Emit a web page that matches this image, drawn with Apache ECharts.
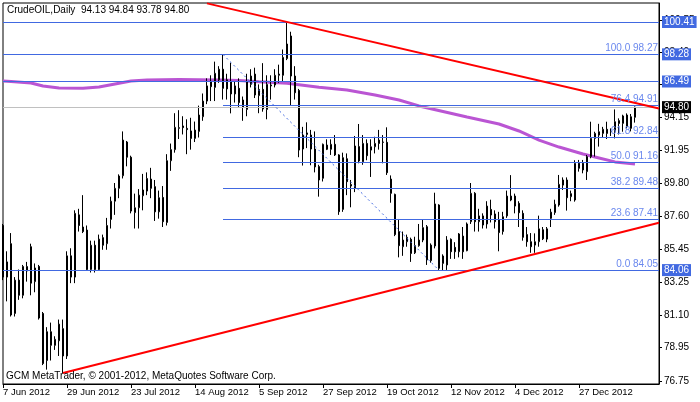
<!DOCTYPE html>
<html><head><meta charset="utf-8">
<script src="https://cdn.jsdelivr.net/npm/echarts@6/dist/echarts.min.js"></script>
<style>html,body{margin:0;padding:0;background:#fff}#c{width:700px;height:402px}</style>
</head><body><div id="c"></div><script>
const dates = ['7 Jun 2012','8 Jun 2012','11 Jun 2012','12 Jun 2012','13 Jun 2012','14 Jun 2012','15 Jun 2012','18 Jun 2012','19 Jun 2012','20 Jun 2012','21 Jun 2012','22 Jun 2012','25 Jun 2012','26 Jun 2012','27 Jun 2012','28 Jun 2012','29 Jun 2012',
'2 Jul 2012','3 Jul 2012','4 Jul 2012','5 Jul 2012','6 Jul 2012','9 Jul 2012','10 Jul 2012','11 Jul 2012','12 Jul 2012','13 Jul 2012','16 Jul 2012','17 Jul 2012','18 Jul 2012','19 Jul 2012','20 Jul 2012','23 Jul 2012','24 Jul 2012','25 Jul 2012','26 Jul 2012','27 Jul 2012','30 Jul 2012','31 Jul 2012',
'1 Aug 2012','2 Aug 2012','3 Aug 2012','6 Aug 2012','7 Aug 2012','8 Aug 2012','9 Aug 2012','10 Aug 2012','13 Aug 2012','14 Aug 2012','15 Aug 2012','16 Aug 2012','17 Aug 2012','20 Aug 2012','21 Aug 2012','22 Aug 2012','23 Aug 2012','24 Aug 2012','27 Aug 2012','28 Aug 2012','29 Aug 2012','30 Aug 2012','31 Aug 2012',
'3 Sep 2012','4 Sep 2012','5 Sep 2012','6 Sep 2012','7 Sep 2012','10 Sep 2012','11 Sep 2012','12 Sep 2012','13 Sep 2012','14 Sep 2012','17 Sep 2012','18 Sep 2012','19 Sep 2012','20 Sep 2012','21 Sep 2012','24 Sep 2012','25 Sep 2012','26 Sep 2012','27 Sep 2012','28 Sep 2012',
'1 Oct 2012','2 Oct 2012','3 Oct 2012','4 Oct 2012','5 Oct 2012','8 Oct 2012','9 Oct 2012','10 Oct 2012','11 Oct 2012','12 Oct 2012','15 Oct 2012','16 Oct 2012','17 Oct 2012','18 Oct 2012','19 Oct 2012','22 Oct 2012','23 Oct 2012','24 Oct 2012','25 Oct 2012','26 Oct 2012','29 Oct 2012','30 Oct 2012','31 Oct 2012',
'1 Nov 2012','2 Nov 2012','5 Nov 2012','6 Nov 2012','7 Nov 2012','8 Nov 2012','9 Nov 2012','12 Nov 2012','13 Nov 2012','14 Nov 2012','15 Nov 2012','16 Nov 2012','19 Nov 2012','20 Nov 2012','21 Nov 2012','22 Nov 2012','23 Nov 2012','26 Nov 2012','27 Nov 2012','28 Nov 2012','29 Nov 2012','30 Nov 2012',
'3 Dec 2012','4 Dec 2012','5 Dec 2012','6 Dec 2012','7 Dec 2012','10 Dec 2012','11 Dec 2012','12 Dec 2012','13 Dec 2012','14 Dec 2012','17 Dec 2012','18 Dec 2012','19 Dec 2012','20 Dec 2012','21 Dec 2012','24 Dec 2012','26 Dec 2012','27 Dec 2012','28 Dec 2012','31 Dec 2012',
'2 Jan 2013','3 Jan 2013','4 Jan 2013','7 Jan 2013','8 Jan 2013','9 Jan 2013','10 Jan 2013','11 Jan 2013','14 Jan 2013','15 Jan 2013','16 Jan 2013','17 Jan 2013'];
const futureDates = ['18 Jan 2013','21 Jan 2013','22 Jan 2013','23 Jan 2013','24 Jan 2013','25 Jan 2013'];

const opens = [87.0,83.6,85.8,81.2,83.4,82.4,84.0,85.6,83.3,84.3,81.2,78.1,79.1,79.1,79.4,80.2,78.4,
85.0,83.6,87.7,86.9,86.7,84.1,85.7,84.1,86.2,85.8,87.4,88.6,89.45,90.28,92.5,91.5,87.85,88.17,88.96,89.27,90.06,89.56,
87.9,88.85,87.2,91.27,92.0,93.4,93.56,93.4,93.23,92.74,93.2,94.17,95.2,96.5,96.1,96.6,97.3,96.6,96.5,95.67,96.04,95.27,94.65,
96.3,96.98,95.56,95.97,94.65,96.2,96.26,96.9,96.9,98.0,99.49,96.85,95.9,92.04,93.0,92.96,92.04,90.88,90.11,92.3,
92.02,92.35,91.65,88.06,91.4,89.7,89.45,92.2,91.2,92.41,91.97,92.19,92.63,92.5,92.48,90.06,89.05,86.6,85.6,85.93,86.09,85.2,85.67,
86.04,86.92,84.68,85.65,88.35,84.5,84.4,86.09,85.56,85.27,86.3,85.34,87.25,89.12,87.25,87.63,87.1,88.06,87.76,87.36,86.6,87.63,
88.68,88.94,88.46,87.8,86.4,85.93,85.71,85.93,86.72,86.1,87.47,87.85,88.35,89.66,90.0,88.9,88.68,91.1,91.1,90.55,
91.54,92.74,92.96,93.07,93.34,93.18,93.18,93.91,93.73,94.28,93.4,94.13];
const highs = [87.1,85.3,86.5,83.6,84.1,84.4,84.6,85.8,84.5,84.4,81.3,80.3,80.6,79.7,80.8,80.8,85.3,
85.5,88.0,88.1,89.0,87.0,86.0,86.0,86.4,86.4,87.5,88.9,89.8,90.37,93.2,92.57,91.6,89.1,89.4,90.4,90.5,90.8,90.0,
89.3,89.6,91.7,92.4,94.4,94.6,94.2,94.0,94.1,93.85,94.9,95.7,96.7,96.9,97.8,97.5,98.24,97.0,97.73,96.5,96.7,95.5,97.0,
97.3,97.4,96.3,97.7,96.9,96.9,97.3,97.6,98.6,100.41,99.77,97.5,96.0,93.5,93.8,93.3,93.2,91.0,92.4,92.68,
92.68,92.96,91.7,91.8,91.75,90.0,92.9,93.69,92.96,92.68,92.68,92.85,93.3,92.96,93.47,90.3,89.1,87.43,86.6,86.4,86.2,86.26,87.1,
87.4,87.03,85.82,89.16,88.4,85.1,86.3,86.15,85.9,86.5,86.9,87.2,89.8,89.2,88.1,87.8,88.6,88.7,88.0,87.9,87.9,89.3,
90.32,89.1,88.6,88.0,86.9,86.5,86.48,87.65,86.9,86.9,88.1,88.7,90.33,90.17,90.17,89.3,91.3,91.32,91.32,91.65,
93.84,93.18,93.7,93.5,93.84,93.4,94.65,94.06,94.3,94.39,94.35,94.84];
const lows = [83.4,82.0,81.0,81.0,82.1,82.2,83.3,82.4,82.6,80.8,77.8,77.5,78.1,78.8,78.4,77.28,78.2,
83.2,83.2,86.6,86.5,84.0,83.9,83.9,84.0,85.4,85.4,86.8,87.7,88.8,90.1,90.9,87.8,86.8,86.8,88.0,89.0,88.8,87.3,
87.45,86.9,87.0,90.6,91.8,92.7,93.0,91.7,92.0,92.5,92.8,93.9,95.0,95.2,95.2,96.4,95.3,95.3,94.39,95.1,94.8,93.9,94.2,
96.1,95.4,94.4,94.5,94.0,95.3,96.1,96.4,96.5,97.9,94.94,95.3,91.5,90.95,92.1,90.97,90.5,88.9,89.9,91.97,
91.65,91.58,87.7,87.9,89.0,88.2,89.2,91.1,91.0,91.3,90.2,91.75,92.0,91.1,90.33,88.5,86.3,84.9,85.0,85.6,84.6,85.12,85.6,
85.9,84.4,84.55,85.49,84.07,84.06,84.07,84.8,84.8,84.9,84.8,85.3,87.1,86.6,86.6,86.8,86.8,87.2,86.8,85.3,86.4,87.5,
88.6,87.8,86.9,86.0,85.6,85.2,85.2,85.6,86.04,85.9,86.9,87.7,88.24,89.34,87.98,88.6,88.57,90.55,90.44,90.0,
91.43,91.54,92.2,92.8,92.7,92.9,92.74,93.0,93.18,93.4,93.2,93.78];
const closes = [83.6,84.6,81.1,83.4,82.4,84.3,84.3,83.2,84.2,80.9,77.9,80.0,80.0,79.5,80.5,78.4,85.0,
83.6,87.8,87.0,86.6,84.1,85.7,84.1,86.1,85.7,87.0,88.6,89.45,90.26,92.63,91.5,87.95,88.17,89.0,89.34,90.1,89.45,87.9,
88.83,87.25,91.27,92.0,93.47,93.45,93.45,93.32,92.74,93.29,94.28,95.2,96.2,96.15,97.03,97.3,96.04,96.0,95.67,96.2,95.1,94.78,96.48,
96.85,95.6,95.97,94.68,96.3,96.26,96.9,96.98,98.08,98.96,96.85,95.75,91.97,92.96,93.1,92.04,90.86,90.0,92.35,92.02,
92.35,91.65,87.91,91.47,89.89,89.6,92.24,91.25,92.41,91.6,92.19,92.41,92.41,92.48,90.48,89.12,86.4,85.67,86.04,86.22,85.16,85.67,86.04,
86.86,84.73,85.71,88.42,84.18,84.99,86.04,85.27,85.27,86.44,85.27,87.1,89.12,87.25,87.63,87.03,88.28,87.69,87.25,86.53,87.58,88.94,
88.94,88.28,87.84,86.22,85.93,85.6,85.93,86.78,86.12,86.78,87.88,88.4,89.71,90.0,88.83,89.1,91.1,90.77,90.66,91.54,
92.74,93.07,93.18,93.34,93.07,93.2,93.84,93.73,94.22,93.51,94.17,94.80];

// moving average (read at selected bars)
const maIdx = [0,2,7,10,14,20,24,28,32,36,44,54,59,64,71,79,86,93,99,104,116,124,129,134,139,145,149,153,158];
const maVal = [96.52,96.49,96.39,96.19,96.06,96.04,96.13,96.33,96.52,96.59,96.62,96.59,96.56,96.48,96.37,96.11,95.93,95.60,95.27,94.88,94.15,93.69,93.23,92.63,92.17,91.71,91.45,91.19,91.05];

const yTicks = [76.75,78.95,81.10,83.25,85.45,87.60,89.80,91.95,94.15,96.30,98.40,100.55];
const hLevels = [100.41,98.28,96.49,84.06];
const lastPrice = 94.80;
const fibPct = ['100.0','76.4','61.8','50.0','38.2','23.6','0.0'];
const fibVal = [98.27,94.91,92.84,91.16,89.48,87.41,84.05];
const fibFrom = 55, fibTo = 109;
const upperTrend = [[51,101.64],[164,94.71]];
const lowerTrend = [[15,77.28],[164,87.18]];
const labelEvery = 16, lastLabel = 144;

const FONT = 'Liberation Sans, Arial, sans-serif';
const BLUE = '#4169E1';
const allCats = dates.concat(futureDates);
const lastIdx = allCats.length - 1;
const candles = opens.map((o,i)=>[o, closes[i], lows[i], highs[i]]);
const ma = maIdx.map((k,i)=>[k, maVal[i]]);

const boxLabel = (bg)=>({show:true, position:'end', distance:3, formatter:(p)=>p.value.toFixed(2),
  backgroundColor:bg, color:'#fff', fontSize:10, fontFamily:FONT, padding:[1,2,1,2]});

const blueLines = hLevels.map(v=>({yAxis:v, lineStyle:{color:BLUE,width:1,type:'solid'}, label:boxLabel(BLUE)}));
blueLines.push({yAxis:lastPrice, lineStyle:{color:'#C0C0C0',width:1,type:'solid'}, label:boxLabel('#000')});
const fibLines = fibVal.map((v,i)=>[{coord:[fibFrom,v], lineStyle:{color:BLUE,width:1,type:'solid'},
  label:{show:true, position:'insideEndTop', distance:[1,1], formatter:fibPct[i]+' '+v.toFixed(2), color:'#6A88EE', fontSize:10, fontFamily:FONT}},
  {coord:[lastIdx,v]}]);
fibLines.push([{coord:[fibFrom,fibVal[0]], lineStyle:{color:BLUE,width:1,type:[2,3]}, label:{show:false}},{coord:[fibTo,fibVal[fibVal.length-1]]}]);

const chart = echarts.init(document.getElementById('c'), null, {renderer:'canvas'});
chart.setOption({
  animation:false,
  backgroundColor:'#fff',
  grid:{left:3, top:3, right:41, bottom:18, show:true, borderColor:'#000', borderWidth:1, backgroundColor:'#fff'},
  xAxis:{type:'category', data:allCats, boundaryGap:false,
    axisLine:{lineStyle:{color:'#000',width:1}},
    axisTick:{show:true, length:4, lineStyle:{color:'#000'}, interval:(i)=>i%labelEvery===0 && i<=lastLabel},
    axisLabel:{interval:(i)=>i%labelEvery===0 && i<=lastLabel, align:'left', margin:3, color:'#000', fontSize:9.5, fontFamily:FONT},
    splitLine:{show:false}},
  yAxis:{type:'value', position:'right', min:76.553, max:101.664, scale:true,
    axisLine:{show:true, lineStyle:{color:'#000',width:1}},
    axisTick:{show:true, length:3, lineStyle:{color:'#000'}, customValues:yTicks},
    axisLabel:{show:true, margin:5, color:'#000', fontSize:10, fontFamily:FONT, customValues:yTicks, formatter:(v)=>v.toFixed(2)},
    splitLine:{show:false}},
  graphic:[
    {type:'text', left:7, top:5, z:100, style:{text:'CrudeOIL,Daily  94.13 94.84 93.78 94.80', font:'10px '+FONT, fill:'#000'}},
    {type:'text', left:6, top:371, z:100, style:{text:'GCM MetaTrader, © 2001-2012, MetaQuotes Software Corp.', font:'10px '+FONT, fill:'#000'}}
  ],
  series:[
    {type:'line', data:[], z:1, silent:true,
      markLine:{silent:true, symbol:['none','none'], animation:false, data:blueLines.concat(fibLines)}},
    {type:'line', data:ma, z:2, silent:true, symbol:'none', lineStyle:{color:'#BA55D3', width:3}},
    {type:'candlestick', data:candles, z:3, silent:true, barWidth:2,
      itemStyle:{color:'#fff', color0:'#000', borderColor:'#000', borderColor0:'#000', borderColorDoji:'#000', borderWidth:1}},
    {type:'line', data:[], z:4, silent:true,
      markLine:{silent:true, symbol:['none','none'], animation:false, label:{show:false},
        lineStyle:{color:'#FF0000', width:2, type:'solid'},
        data:[[{coord:upperTrend[0]},{coord:upperTrend[1]}],[{coord:lowerTrend[0]},{coord:lowerTrend[1]}]]}}
  ]
});
</script></body></html>
